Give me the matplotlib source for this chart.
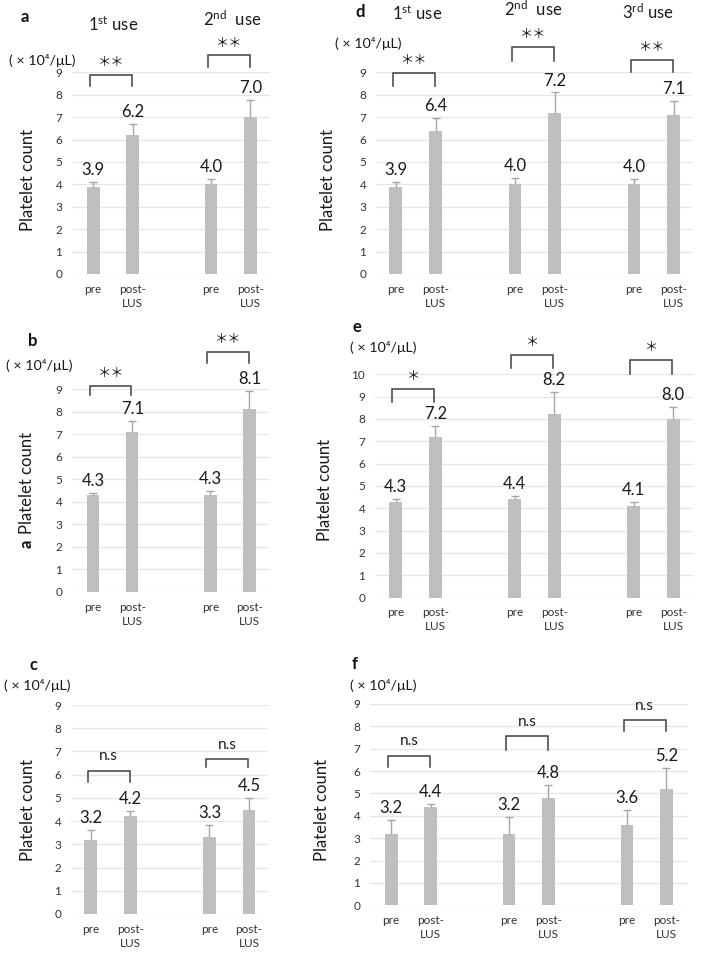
import matplotlib
matplotlib.use('Agg')
import matplotlib.pyplot as plt

plt.rcParams['font.family'] = ['Lato', 'DejaVu Sans']
plt.rcParams['mathtext.fontset'] = 'custom'
plt.rcParams['mathtext.rm'] = 'Lato'
plt.rcParams['mathtext.it'] = 'Lato:italic'
plt.rcParams['mathtext.bf'] = 'Lato:bold'

# ---------------- data ----------------
categories = ['pre', 'post-\nLUS']

a_pre = [3.9, 4.0]
a_post = [6.2, 7.0]
a_pre_err = [0.2, 0.25]
a_post_err = [0.5, 0.75]
a_sig = ['＊＊', '＊＊']

b_pre = [4.3, 4.3]
b_post = [7.1, 8.1]
b_pre_err = [0.1, 0.2]
b_post_err = [0.5, 0.8]
b_sig = ['＊＊', '＊＊']

c_pre = [3.2, 3.3]
c_post = [4.2, 4.5]
c_pre_err = [0.4, 0.55]
c_post_err = [0.25, 0.5]
c_sig = ['n.s', 'n.s']

d_pre = [3.9, 4.0, 4.0]
d_post = [6.4, 7.2, 7.1]
d_pre_err = [0.2, 0.27, 0.22]
d_post_err = [0.55, 0.9, 0.62]
d_sig = ['＊＊', '＊＊', '＊＊']

e_pre = [4.3, 4.4, 4.1]
e_post = [7.2, 8.2, 8.0]
e_pre_err = [0.1, 0.17, 0.2]
e_post_err = [0.5, 1.0, 0.55]
e_sig = ['＊', '＊', '＊']

f_pre = [3.2, 3.2, 3.6]
f_post = [4.4, 4.8, 5.2]
f_pre_err = [0.6, 0.75, 0.65]
f_post_err = [0.15, 0.6, 0.95]
f_sig = ['n.s', 'n.s', 'n.s']

# bracket heights (annotation placement, in axis units)
a_br = ([8.88, 9.75], [8.38, 9.22])
b_br = ([9.15, 10.66], [8.73, 10.17])
c_br = ([6.17, 6.67], [5.70, 6.34])
d_br = ([8.95, 10.12, 9.55], [8.38, 9.52, 9.00])
e_br = ([9.34, 10.87, 10.65], [8.77, 10.27, 10.00])
f_br = ([6.68, 7.55, 8.28], [6.18, 6.96, 7.80])

unit_text = '( × 10⁴/μL)'
ylabel_text = 'Platelet count'
use_labels = [r'1$^{\mathrm{st}}$ use', r'2$^{\mathrm{nd}}$  use', r'3$^{\mathrm{rd}}$ use']

# ---------------- layout ----------------
W, H = 709, 964
fig = plt.figure(figsize=(W / 100, H / 100), dpi=100)

BAR_C = '#bfbfbf'
ERR_C = '#a6a6a6'
GRID_C = '#e6e6e6'
TXT_C = '#1a1a1a'
TICK_C = '#333333'


def px_axes(left, right, top, bottom):
    return fig.add_axes([left / W, 1 - bottom / H, (right - left) / W, (bottom - top) / H])


def fig_text(x, y, s, **kw):
    fig.text(x / W, 1 - y / H, s, **kw)


def draw_panel(ax, pre, post, pre_err, post_err, sig, br, ymax, xlim):
    n = len(pre)
    xp = [3 * i for i in range(n)]
    xq = [3 * i + 1 for i in range(n)]
    ax.bar(xp, pre, width=0.32, color=BAR_C, zorder=2)
    ax.bar(xq, post, width=0.32, color=BAR_C, zorder=2)
    for xs, vs, es in ((xp, pre, pre_err), (xq, post, post_err)):
        _, caps, _ = ax.errorbar(xs, vs, yerr=[[0] * n, es], fmt='none', ecolor=ERR_C,
                                 elinewidth=1.0, capsize=3.2, capthick=1.0, zorder=3)
        caps[0].set_visible(False)
        for x, v, e in zip(xs, vs, es):
            ax.annotate(f'{v:.1f}', (x, v + e), xytext=(0, 5.0), textcoords='offset points',
                        ha='center', va='baseline', fontsize=12, color=TXT_C,
                        annotation_clip=False)
    tops, bots = br
    for i in range(n):
        x0 = xp[i] - 0.08
        x1 = xq[i] - 0.02
        ax.plot([x0, x0, x1, x1], [bots[i], tops[i], tops[i], bots[i]], color='#404040',
                lw=1.1, clip_on=False, zorder=4, solid_joinstyle='miter')
        if sig[i].startswith('n'):
            ax.annotate(sig[i], ((x0 + x1) / 2, tops[i]), xytext=(0, 7.5), textcoords='offset points',
                        ha='center', va='baseline', fontsize=11, color=TXT_C,
                        annotation_clip=False)
        else:
            ax.annotate(sig[i], ((x0 + x1) / 2, tops[i]), xytext=(0, 9), textcoords='offset points',
                        ha='center', va='center', fontsize=9.5, color=TXT_C,
                        family=['Noto Sans CJK JP', 'DejaVu Sans'], annotation_clip=False)
    ax.set_xlim(*xlim)
    ax.set_ylim(0, ymax)
    ax.set_yticks(range(0, ymax + 1))
    ax.set_xticks(xp + xq)
    ax.set_xticklabels([categories[0]] * n + [categories[1]] * n)
    ax.grid(axis='y', color=GRID_C, lw=0.9)
    ax.set_axisbelow(True)
    for s in ax.spines.values():
        s.set_visible(False)
    ax.tick_params(axis='y', length=0, pad=7, labelsize=8.5, labelcolor=TICK_C)
    ax.tick_params(axis='x', length=0, pad=7, labelsize=8.5, labelcolor=TICK_C)
    for lab in ax.get_xticklabels():
        lab.set_linespacing(1.35)


# panel a
ax_a = px_axes(72, 270, 72.3, 274)
draw_panel(ax_a, a_pre, a_post, a_pre_err, a_post_err, a_sig, a_br, 9, (-0.54, 4.5))
# panel b
ax_b = px_axes(72, 269, 389, 592)
draw_panel(ax_b, b_pre, b_post, b_pre_err, b_post_err, b_sig, b_br, 9, (-0.54, 4.5))
# panel c
ax_c = px_axes(71, 268, 705, 914)
draw_panel(ax_c, c_pre, c_post, c_pre_err, c_post_err, c_sig, c_br, 9, (-0.5, 4.48))
# panel d
ax_d = px_axes(376, 692, 72.3, 274)
draw_panel(ax_d, d_pre, d_post, d_pre_err, d_post_err, d_sig, d_br, 9, (-0.5, 7.46))
# panel e
ax_e = px_axes(375, 693, 374.3, 597.6)
draw_panel(ax_e, e_pre, e_post, e_pre_err, e_post_err, e_sig, e_br, 10, (-0.52, 7.5))
# panel f
ax_f = px_axes(370, 688, 704, 905.3)
draw_panel(ax_f, f_pre, f_post, f_pre_err, f_post_err, f_sig, f_br, 9, (-0.54, 7.55))

# panel letters
for x, y, s in [(25, 17, 'a'), (33, 341, 'b'), (33, 665, 'c'),
                (360, 12, 'd'), (357, 327, 'e'), (355, 664, 'f')]:
    fig_text(x, y, s, ha='center', va='center', fontsize=12, fontweight='bold', color='#111111')

# unit labels
for x, y in [(42.5, 60.5), (39, 366), (37.5, 686), (368, 43), (383, 347), (383, 685)]:
    fig_text(x, y, unit_text, ha='center', va='center', fontsize=10.3, color=TXT_C)

# y labels
for x, y in [(28, 180), (27, 483.5), (28, 810), (328, 180), (325, 490), (322, 810)]:
    fig_text(x, y, ylabel_text, ha='center', va='center', rotation=90, fontsize=12, color=TXT_C)
fig_text(26.7, 543.5, 'a', ha='center', va='center', rotation=90, fontsize=12,
         fontweight='bold', color='#111111')

# use headings
for x, y, s in [(113, 25, use_labels[0]), (232, 19, use_labels[1]),
                (416.7, 13.3, use_labels[0]), (533, 9.3, use_labels[1]), (648, 12.3, use_labels[2])]:
    fig_text(x, y, s, ha='center', va='center', fontsize=12, color=TXT_C)

fig.savefig('out.png', dpi=100, facecolor='white')
